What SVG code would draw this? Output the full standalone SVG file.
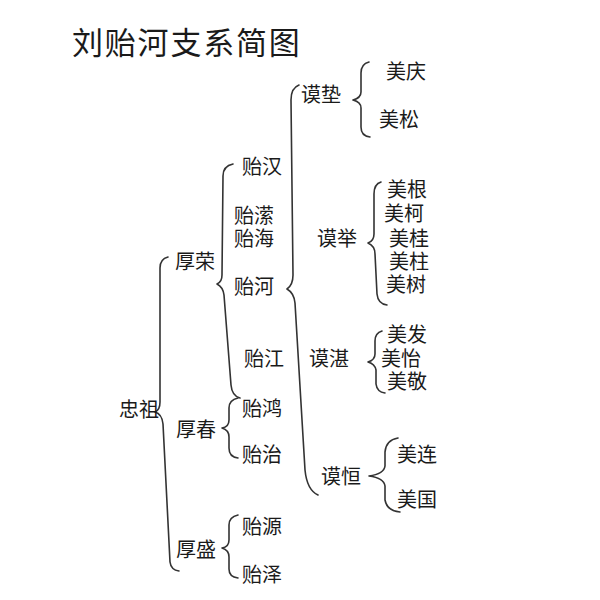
<svg xmlns="http://www.w3.org/2000/svg" width="600" height="600" viewBox="0 0 600 600">
<style>
text{font-family:"Noto Sans CJK SC","Noto Sans",sans-serif;fill:#1a1a1a;dominant-baseline:central}
.t{font-size:31px;letter-spacing:1.8px}
.n{font-size:20px}
.b{fill:none;stroke:#333;stroke-width:1.6;stroke-linecap:round;stroke-linejoin:round}
</style>
<rect width="600" height="600" fill="#fff"/>
<text class="t" x="72" y="40">刘贻河支系简图</text>
<g id="connectors">
<path class="b" d="M168,257 Q160,259 160,268 L160,402 Q160,410 155,412 Q162,414 163,424 L170,562 Q171,570 179,571"/>
<path class="b" d="M233,164 Q223,166 223,176 L222,275 Q222,282 217,284 Q223,287 224,295 L231,385 Q232,396 240,398"/>
<path class="b" d="M238,398 Q229,400 229,408 L229,420 Q229,427 222,428 Q229,430 229,437 L229,448 Q229,457 238,458"/>
<path class="b" d="M238,515 Q229,517 229,525 L229,540 Q229,547 222,548 Q229,550 229,557 L229,569 Q229,577 238,578"/>
<path class="b" d="M299,85 Q291,88 291,100 L293,275 Q293,285 287,289 Q294,293 295,303 L305,470 Q307,490 318,495"/>
<path class="b" d="M369,62 Q361,64 361,73 L361,92 Q361,98 353,100 Q361,102 361,108 L361,127 Q361,136 370,137"/>
<path class="b" d="M381,182 Q374,184 374,194 L374,234 Q374,241 368,243 Q375,246 375,254 L377,294 Q378,304 387,305"/>
<path class="b" d="M382,331 Q375,333 375,341 L375,354 Q375,360 368,362 Q375,364 376,370 L376,384 Q377,392 385,393"/>
<path class="b" d="M398,438 Q386,440 385,452 L385,466 Q384,474 369,476 Q384,478 385,486 L385,500 Q387,511 400,512"/>
</g>
<g id="zhongzu"><text class="n" x="119" y="408">忠祖</text></g>
<g id="hourong"><text class="n" x="175" y="260">厚荣</text></g>
<g id="houchun"><text class="n" x="176" y="428">厚春</text></g>
<g id="housheng"><text class="n" x="176" y="548">厚盛</text></g>
<g id="yihan"><text class="n" x="242" y="165">贻汉</text></g>
<g id="yiying"><text class="n" x="234" y="214">贻潆</text></g>
<g id="yihai"><text class="n" x="234" y="237">贻海</text></g>
<g id="yihe"><text class="n" x="234" y="285">贻河</text></g>
<g id="yijiang"><text class="n" x="244" y="357">贻江</text></g>
<g id="yihong"><text class="n" x="242" y="407">贻鸿</text></g>
<g id="yizhi"><text class="n" x="242" y="453">贻治</text></g>
<g id="yiyuan"><text class="n" x="242" y="525">贻源</text></g>
<g id="yize"><text class="n" x="242" y="573">贻泽</text></g>
<g id="modian"><text class="n" x="301" y="93">谟垫</text></g>
<g id="moju"><text class="n" x="317" y="237">谟举</text></g>
<g id="mozhan"><text class="n" x="309" y="357">谟湛</text></g>
<g id="moheng"><text class="n" x="321" y="475">谟恒</text></g>
<g id="meiqing"><text class="n" x="386" y="70">美庆</text></g>
<g id="meisong"><text class="n" x="379" y="118">美松</text></g>
<g id="meigen"><text class="n" x="387" y="188">美根</text></g>
<g id="meike"><text class="n" x="384" y="212">美柯</text></g>
<g id="meigui"><text class="n" x="389" y="237">美桂</text></g>
<g id="meizhu"><text class="n" x="389" y="260">美柱</text></g>
<g id="meishu"><text class="n" x="386" y="283">美树</text></g>
<g id="meifa"><text class="n" x="387" y="333">美发</text></g>
<g id="meiyi"><text class="n" x="381" y="357">美怡</text></g>
<g id="meijing"><text class="n" x="387" y="380">美敬</text></g>
<g id="meilian"><text class="n" x="397" y="453">美连</text></g>
<g id="meiguo"><text class="n" x="397" y="498">美国</text></g>
</svg>
